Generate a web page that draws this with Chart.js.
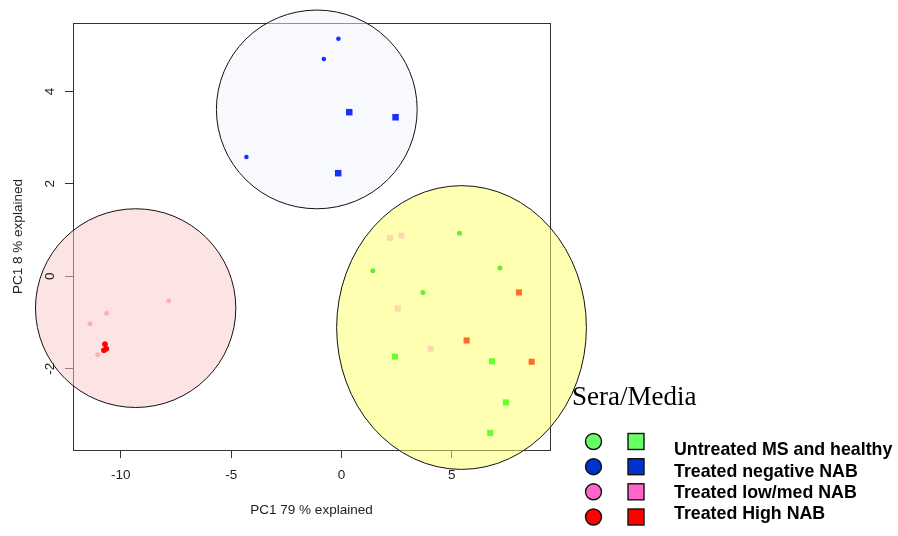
<!DOCTYPE html>
<html>
<head>
<meta charset="utf-8">
<script src="https://cdn.jsdelivr.net/npm/chart.js@4.4.1/dist/chart.umd.min.js"></script>
<style>
  html, body { margin: 0; padding: 0; background: #ffffff; }
  #wrap { width: 898px; height: 536px; }
</style>
</head>
<body>
<div id="wrap"><canvas id="pca" width="898" height="536"></canvas></div>
<script>
// Axis ticks
const xTickValues = [-10, -5, 0, 5];
const yTickValues = [-2, 0, 2, 4];

// Untreated MS and healthy
const untreatedCircX = [5.35, 1.42, 7.18, 3.69];
const untreatedCircY = [0.93, 0.12, 0.18, -0.35];
const untreatedSqX = [2.42, 6.82, 7.45, 6.74];
const untreatedSqY = [-1.74, -1.84, -2.73, -3.39];

// Treated negative NAB
const negCircX = [-0.14, -0.80, -4.31];
const negCircY = [5.14, 4.70, 2.58];
const negSqX = [0.35, 2.45, -0.15];
const negSqY = [3.55, 3.44, 2.23];

// Treated low/med NAB
const lowCircX = [-7.83, -10.65, -11.40, -11.05];
const lowCircY = [-0.53, -0.80, -1.03, -1.70];
const lowSqX = [2.20, 2.72, 2.55, 4.04];
const lowSqY = [0.83, 0.88, -0.70, -1.57];

// Treated High NAB
const highCircX = [-10.72, -10.66, -10.77];
const highCircY = [-1.47, -1.57, -1.60];
const highSqX = [8.04, 5.67, 8.62];
const highSqY = [-0.35, -1.39, -1.85];

// Cluster ellipses (centre and radii in PC units)
const ellipseCx = [-9.33, -1.12, 5.44];
const ellipseCy = [-0.69, 3.61, -1.11];
const ellipseRx = [4.54, 4.55, 5.66];
const ellipseRy = [2.15, 2.15, 3.07];
const ellipseFill = ['rgba(251,201,201,0.5)', 'rgba(239,243,251,0.5)', 'rgba(255,255,102,0.5)'];

// Legend
const legendTitle = 'Sera/Media';
const legendLabels = ['Untreated MS and healthy', 'Treated negative NAB', 'Treated low/med NAB', 'Treated High NAB'];
const legendColors = ['#66ff66', '#0033cc', '#ff66cc', '#ff0000'];

const xTitle = 'PC1 79 % explained';
const yTitle = 'PC1 8 % explained';

const zip = (xs, ys) => xs.map((x, i) => ({ x: x, y: ys[i] }));
const circ = (label, xs, ys, color, r) => ({
  label, data: zip(xs, ys), pointStyle: 'circle', pointRadius: r,
  backgroundColor: color, borderWidth: 0, pointBorderWidth: 0, pointHoverRadius: r
});
const sq = (label, xs, ys, color, r) => ({
  label, data: zip(xs, ys), pointStyle: 'rect', pointRadius: r,
  backgroundColor: color, borderWidth: 0, pointBorderWidth: 0, pointHoverRadius: r
});

const FONT = '"Liberation Sans", Arial, sans-serif';

const decorations = {
  id: 'decorations',
  beforeDatasetsDraw(chart) {
    const ctx = chart.ctx, a = chart.chartArea;
    const xs = chart.scales.x, ys = chart.scales.y;
    ctx.save();
    // plot box
    ctx.strokeStyle = '#333333';
    ctx.lineWidth = 1;
    ctx.strokeRect(Math.round(a.left) + 0.5, Math.round(a.top) + 0.5,
                   Math.round(a.right - a.left), Math.round(a.bottom - a.top));
    // ellipses
    for (let i = 0; i < ellipseCx.length; i++) {
      const cx = xs.getPixelForValue(ellipseCx[i]);
      const cy = ys.getPixelForValue(ellipseCy[i]);
      const rx = Math.abs(xs.getPixelForValue(ellipseCx[i] + ellipseRx[i]) - cx);
      const ry = Math.abs(ys.getPixelForValue(ellipseCy[i] + ellipseRy[i]) - cy);
      ctx.beginPath();
      ctx.ellipse(cx, cy, rx, ry, 0, 0, Math.PI * 2);
      ctx.fillStyle = ellipseFill[i];
      ctx.fill();
      ctx.strokeStyle = '#111111';
      ctx.lineWidth = 1;
      ctx.stroke();
    }
    // rotated y tick labels
    ctx.fillStyle = '#222222';
    ctx.font = '13.5px ' + FONT;
    ctx.textAlign = 'center';
    ctx.textBaseline = 'middle';
    yTickValues.forEach(v => {
      const py = ys.getPixelForValue(v);
      ctx.save();
      ctx.translate(50, py);
      ctx.rotate(-Math.PI / 2);
      ctx.fillText(String(v), 0, 0);
      ctx.restore();
    });
    // axis titles
    ctx.fillText(xTitle, (a.left + a.right) / 2, 510);
    ctx.save();
    ctx.translate(18, (a.top + a.bottom) / 2);
    ctx.rotate(-Math.PI / 2);
    ctx.fillText(yTitle, 0, 0);
    ctx.restore();
    ctx.restore();
  },
  afterDraw(chart) {
    const ctx = chart.ctx;
    ctx.save();
    ctx.fillStyle = '#000000';
    ctx.font = '27px "Liberation Serif", "Times New Roman", serif';
    ctx.textAlign = 'left';
    ctx.textBaseline = 'alphabetic';
    ctx.fillText(legendTitle, 572, 405);
    const rowsMarker = [441.5, 466.7, 491.8, 517];
    const rowsText = [450, 471.7, 493.3, 514.3];
    legendLabels.forEach((lab, i) => {
      const y = rowsMarker[i];
      ctx.beginPath();
      ctx.arc(593.5, y, 8, 0, Math.PI * 2);
      ctx.fillStyle = legendColors[i];
      ctx.fill();
      ctx.strokeStyle = '#111111';
      ctx.lineWidth = 1.4;
      ctx.stroke();
      ctx.fillRect(628, y - 8, 16, 16);
      ctx.strokeRect(628, y - 8, 16, 16);
      ctx.fillStyle = '#000000';
      ctx.font = 'bold 17.8px ' + FONT;
      ctx.textBaseline = 'middle';
      ctx.fillText(lab, 674, rowsText[i]);
    });
    ctx.restore();
  }
};

new Chart(document.getElementById('pca'), {
  type: 'scatter',
  data: {
    datasets: [
      circ('Untreated MS and healthy', untreatedCircX, untreatedCircY, '#66ee33', 2.5),
      sq('Untreated MS and healthy', untreatedSqX, untreatedSqY, '#66ff33', 4.3),
      circ('Treated negative NAB', negCircX, negCircY, '#1a2eff', 2.3),
      sq('Treated negative NAB', negSqX, negSqY, '#1a2eff', 4.6),
      circ('Treated low/med NAB', lowCircX, lowCircY, '#ffb0b0', 2.5),
      sq('Treated low/med NAB', lowSqX, lowSqY, '#ffd8b0', 4.3),
      circ('Treated High NAB', highCircX, highCircY, '#ff0000', 2.8),
      sq('Treated High NAB', highSqX, highSqY, '#ff6a2a', 4.3)
    ]
  },
  options: {
    responsive: false,
    animation: false,
    events: [],
    layout: { padding: { left: 0, top: 23, right: 348, bottom: 0 } },
    plugins: { legend: { display: false }, tooltip: { enabled: false } },
    scales: {
      x: {
        type: 'linear', min: -12.17, max: 9.45,
        afterBuildTicks: s => { s.ticks = xTickValues.map(v => ({ value: v })); },
        afterFit: s => { s.height = 86; },
        border: { display: false },
        grid: { drawOnChartArea: false, drawTicks: true, tickLength: 8, color: '#333333' },
        ticks: { color: '#222222', font: { family: FONT, size: 13.5 }, padding: 9, maxRotation: 0 }
      },
      y: {
        type: 'linear', min: -3.76, max: 5.48,
        afterBuildTicks: s => { s.ticks = yTickValues.map(v => ({ value: v })); },
        afterFit: s => { s.width = 73; },
        border: { display: false },
        grid: { drawOnChartArea: false, drawTicks: true, tickLength: 8, color: '#333333' },
        ticks: { color: 'rgba(0,0,0,0)', font: { family: FONT, size: 13.5 } }
      }
    }
  },
  plugins: [decorations]
});
</script>
</body>
</html>
